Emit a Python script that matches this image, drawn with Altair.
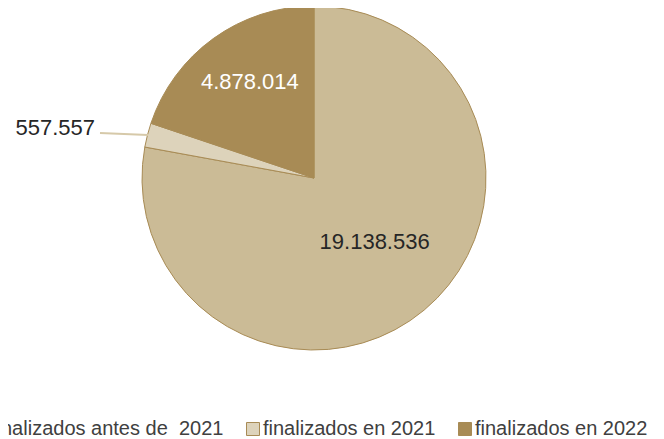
import altair as alt
import pandas as pd

categories = ["finalizados antes de\u00a0\u00a02021", "finalizados en 2021", "finalizados en 2022"]
values = [19138536, 557557, 4878014]
labels = ["19.138.536", "557.557", "4.878.014"]
colors = ["#CBBB96", "#DDD3BB", "#A88B55"]

df = pd.DataFrame({"cat": categories, "val": values, "lab": labels, "ord": [0, 1, 2]})
total = sum(values)

base = (
    alt.Chart(df)
    .transform_window(end="sum(val)", sort=[alt.SortField("ord")], frame=[None, 0])
    .transform_calculate(start="datum.end - datum.val", mid="datum.end - datum.val / 2")
)
tscale = alt.Scale(domain=[0, total], range=[0, 6.283185307179586])

arcs = base.mark_arc(radius=172, stroke="#A88B55", strokeWidth=1).encode(
    theta=alt.Theta("start:Q", scale=tscale),
    theta2="end:Q",
    color=alt.Color(
        "cat:N",
        scale=alt.Scale(domain=categories, range=colors),
        sort=categories,
        legend=alt.Legend(
            title=None,
            orient="none",
            direction="horizontal",
            legendX=-37,
            legendY=411,
            labelFontSize=20,
            labelFont="Liberation Sans",
            labelColor="#404040",
            labelLimit=400,
            symbolType="square",
            symbolSize=169,
            symbolStrokeColor="#A88B55",
            symbolStrokeWidth=1,
            symbolOpacity=1,
            columnPadding=19,
            labelOffset=0,
            padding=0,
        ),
    ),
)

big_text = (
    base.transform_filter("datum.ord == 0")
    .mark_text(fontSize=22, font="Liberation Sans", color="#262626", radius=90, dx=3, dy=-5)
    .encode(theta=alt.Theta("mid:Q", scale=tscale), text="lab:N")
)

dark_text = (
    base.transform_filter("datum.ord == 2")
    .mark_text(fontSize=22, font="Liberation Sans", color="white", radius=115, dx=3, dy=-3)
    .encode(theta=alt.Theta("mid:Q", scale=tscale), text="lab:N")
)

small = pd.DataFrame({"lab": [labels[1]]})
small_text = alt.Chart(small).mark_text(
    fontSize=22, font="Liberation Sans", color="#262626", align="right", baseline="middle"
).encode(text="lab:N", x=alt.value(87), y=alt.value(120))

leader = alt.Chart(small).mark_rule(color="#D6C9A9", strokeWidth=2).encode(
    x=alt.value(92), x2=alt.value(140), y=alt.value(125), y2=alt.value(127)
)

chart = (
    alt.layer(arcs, big_text, dark_text, leader, small_text)
    .properties(
        width=612,
        height=340,
        padding={"left": 0, "top": 0, "right": 36, "bottom": 91},
        autosize=alt.AutoSizeParams(type="none"),
    )
    .configure_view(stroke=None)
)

chart.save("out.html", embed_options={"renderer": "svg", "actions": False})
